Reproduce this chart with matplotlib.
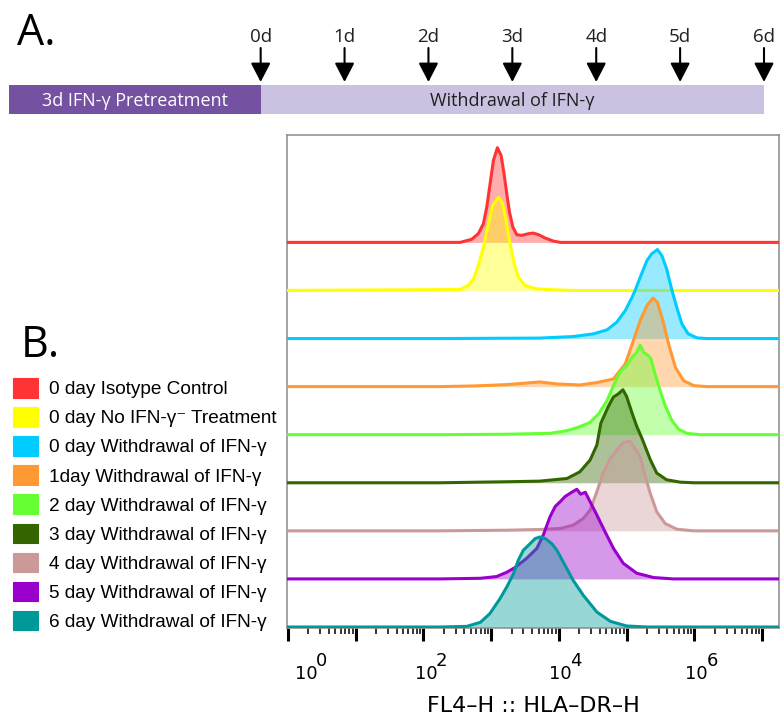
import numpy as np
import matplotlib
matplotlib.use("Agg")
import matplotlib.pyplot as plt
from matplotlib.patches import Patch

# ---------------- data ----------------
labels = ["0 day Isotype Control", "0 day No IFN-\u03b3\u207b Treatment",
          "0 day Withdrawal of IFN-\u03b3", "1day Withdrawal of IFN-\u03b3",
          "2 day Withdrawal of IFN-\u03b3", "3 day Withdrawal of IFN-\u03b3",
          "4 day Withdrawal of IFN-\u03b3", "5 day Withdrawal of IFN-\u03b3",
          "6 day Withdrawal of IFN-\u03b3"]
colors = ["#FF3333", "#FFFF00", "#00CCFF", "#FF9933", "#66FF33",
          "#336600", "#CC9999", "#9900CC", "#009999"]

# x: log10(FL4-H), y: % of mode
red_x = [-0.1, 2.54, 2.71, 2.81, 2.885, 2.935, 2.984, 3.033, 3.092, 3.146, 3.19, 3.23, 3.27, 3.32, 3.378, 3.452, 3.55, 3.62, 3.70, 3.80, 3.92, 4.02, 7.3]
red_y = [0, 0, 3.3, 9.5, 20.4, 38.6, 64.2, 89.7, 103.6, 95.2, 75.1, 53.3, 33.2, 16.7, 8.4, 7.7, 9.5, 10.2, 8.4, 4.7, 1.4, 0, 0]
yel_x = [-0.1, 2.54, 2.66, 2.74, 2.81, 2.885, 2.96, 3.02, 3.11, 3.17, 3.22, 3.28, 3.34, 3.40, 3.50, 3.67, 3.92, 4.21, 7.3]
yel_y = [0, 1, 5.5, 12.8, 27.4, 47.4, 73, 92.9, 102, 94.9, 76.6, 51, 29.2, 14.6, 5.5, 1.8, 0.7, 0, 0]
blu_x = [-0.1, 2.245, 3.72, 4.21, 4.51, 4.71, 4.855, 4.98, 5.08, 5.125, 5.20, 5.30, 5.37, 5.455, 5.52, 5.59, 5.67, 5.74, 5.815, 5.91, 6.04, 6.18, 7.3]
blu_y = [0, 0, 0.5, 2.2, 5.1, 9.5, 17.9, 30.6, 45.2, 52.5, 67, 85.3, 92.7, 97.4, 90.8, 76.3, 52.5, 34.2, 16.1, 5.1, 0.7, 0, 0]
org_x = [-0.1, 2.245, 2.74, 3.23, 3.72, 3.97, 4.31, 4.56, 4.805, 4.98, 5.10, 5.20, 5.30, 5.39, 5.455, 5.535, 5.62, 5.72, 5.84, 5.99, 6.18, 7.3]
org_y = [0, 0, 0.7, 2.2, 5.1, 2.9, 1.8, 4.4, 8.4, 24.8, 50.3, 72.2, 88.6, 97, 92.2, 72.2, 46.7, 21.1, 6.6, 1.1, 0, 0]
grn_x = [-0.1, 2.245, 3.23, 3.87, 4.12, 4.31, 4.46, 4.585, 4.71, 4.805, 4.90, 5.00, 5.08, 5.15, 5.20, 5.25, 5.32, 5.36, 5.42, 5.495, 5.57, 5.67, 5.765, 5.89, 6.085, 7.3]
grn_y = [0, 0, 0.5, 1.5, 4.4, 8.8, 13.5, 22.6, 37.2, 53.6, 68.2, 75.5, 84.6, 90.1, 98.1, 90.1, 86.5, 82.8, 66.4, 48.1, 31.7, 15.3, 6.2, 1.5, 0, 0]
dkg_x = [-0.1, 2.245, 3.23, 3.72, 4.12, 4.31, 4.46, 4.56, 4.62, 4.73, 4.805, 4.88, 4.945, 5.00, 5.08, 5.15, 5.225, 5.35, 5.445, 5.59, 5.79, 5.99, 7.3]
dkg_y = [0, 0, 1.1, 1.8, 4.7, 12, 24.8, 41.2, 65.3, 83.5, 93.8, 97.4, 101.8, 94.4, 76.3, 61.6, 48.9, 25.2, 10.6, 3.3, 0.7, 0, 0]
ros_x = [-0.1, 2.245, 3.23, 3.72, 4.02, 4.21, 4.36, 4.46, 4.56, 4.66, 4.76, 4.855, 4.95, 5.05, 5.125, 5.20, 5.27, 5.35, 5.445, 5.57, 5.74, 5.99, 7.3]
ros_y = [0, 0, 0.7, 1.5, 2.6, 6.2, 13.5, 22.6, 42.7, 64.6, 79.2, 88.3, 96.7, 98.1, 90.1, 81, 60.9, 40.8, 20.8, 8, 1.8, 0, 0]
pur_x = [-0.1, 2.245, 2.84, 3.08, 3.23, 3.35, 3.525, 3.675, 3.77, 3.87, 3.945, 4.02, 4.09, 4.19, 4.265, 4.32, 4.39, 4.46, 4.56, 4.68, 4.805, 4.95, 5.15, 5.40, 5.69, 7.3]
pur_y = [0, 0, 0.7, 2.6, 7.3, 12.4, 22.6, 33.5, 48.1, 68.2, 79.2, 84.6, 90.1, 94.8, 98.1, 92.7, 94.8, 84.6, 70, 51.8, 33.5, 17.1, 6.2, 1.5, 0, 0]
tea_x = [-0.1, 2.245, 2.64, 2.84, 2.98, 3.13, 3.23, 3.33, 3.40, 3.475, 3.55, 3.65, 3.72, 3.80, 3.895, 3.97, 4.09, 4.21, 4.36, 4.56, 4.76, 5.00, 5.30, 7.3]
tea_y = [0, 0, 0.7, 5.1, 14.6, 31, 43.8, 58.4, 73, 84, 89.4, 96.7, 98.5, 96.7, 91.2, 84, 67.6, 51.1, 34.7, 16.4, 6.2, 1.1, 0, 0]

series_x = [red_x, yel_x, blu_x, org_x, grn_x, dkg_x, ros_x, pur_x, tea_x]
series_y = [red_y, yel_y, blu_y, org_y, grn_y, dkg_y, ros_y, pur_y, tea_y]

decades = list(range(8))
label_pos_base = [0.27, 2.04, 4.02, 6.03]
label_pos_exp = [0.50, 2.27, 4.25, 6.26]
label_base = ["10", "10", "10", "10"]
label_exp = ["0", "2", "4", "6"]

days = [0, 1, 2, 3, 4, 5, 6]
pretreat_days = 3

OFFSET = 52.6  # vertical offset between stacked histograms (% of mode)

# ---------------- figure ----------------
W, H = 781, 723
fig = plt.figure(figsize=(W / 100, H / 100), dpi=100)
fig.patch.set_facecolor("white")

# ----- main histogram axes -----
L, R, T, B = 287, 779, 135, 628
ax = fig.add_axes([L / W, 1 - B / H, (R - L) / W, (B - T) / H])
n = len(series_x)
for i, (xs, ys, c) in enumerate(zip(series_x, series_y, colors)):
    off = (n - 1 - i) * OFFSET
    ys = np.asarray(ys, float) + off
    ax.fill_between(xs, off, ys, color=c, alpha=0.4, lw=0, zorder=2 + 2 * i)
    ax.plot(xs, ys, color=c, lw=2.2, zorder=3 + 2 * i, solid_joinstyle="round")

ax.set_xlim(-0.015, 7.25)
ax.set_ylim(-1.1, 538.3)
ax.set_yticks([])
for s in ["top", "left", "right", "bottom"]:
    ax.spines[s].set_color("#8a8a8a")
    ax.spines[s].set_linewidth(1.1)

ax.set_xticks(decades, labels=[""] * len(decades))
minor = [d + np.log10(k) for d in decades[:-1] for k in range(2, 10)]
ax.set_xticks(minor, minor=True)
ax.tick_params(axis="x", which="major", length=9.4, width=2.2, color="black", direction="out")
ax.tick_params(axis="x", which="minor", length=4.3, width=1.1, color="black", direction="out")

sec1 = ax.secondary_xaxis("bottom")
sec1.set_xticks(label_pos_base, labels=label_base)
sec1.tick_params(length=0, pad=26.5, labelsize=13)
sec1.spines["bottom"].set_visible(False)
sec2 = ax.secondary_xaxis("bottom")
sec2.set_xticks(label_pos_exp, labels=label_exp)
sec2.tick_params(length=0, pad=17.5, labelsize=13)
sec2.spines["bottom"].set_visible(False)

ax.set_xlabel("FL4\u2013H :: HLA\u2013DR\u2013H", fontsize=16)
ax.xaxis.set_label_coords(0.5, (B - 695.5) / (B - T))

# ----- legend -----
handles = [Patch(facecolor=c, edgecolor=c, alpha=1.0, lw=0.8) for c in colors]
leg = fig.legend(handles, labels, loc="upper left",
                 bbox_to_anchor=(13 / W, 1 - 378 / H), frameon=False,
                 borderpad=0, borderaxespad=0, handlelength=1.32, handleheight=1.2,
                 handletextpad=0.55, labelspacing=0.47,
                 prop={"family": ["Liberation Sans", "DejaVu Sans"], "size": 13.7})

# ----- panel letters -----
fig.text(17 / W, 1 - 45 / H, "A.", fontsize=31, family="Open Sans", va="baseline")
fig.text(21 / W, 1 - 357 / H, "B.", fontsize=31, family="Open Sans", va="baseline")

# ----- timeline (panel A) -----
px_per_day = (764 - 9) / (pretreat_days + days[-1])
axt = fig.add_axes([0, 1 - 130 / H, 1, 130 / H])
axt.set_xlim(-pretreat_days - 9 / px_per_day, days[-1] + (W - 764) / px_per_day)
axt.set_ylim(130, 0)
axt.axis("off")
axt.barh(99.5, pretreat_days, left=-pretreat_days, height=29, color="#7451A1", lw=0)
axt.barh(99.5, days[-1] - days[0], left=days[0], height=29, color="#CBC2E1", lw=0)
axt.text(-pretreat_days / 2, 105.5, "3d IFN-\u03b3 Pretreatment", color="white",
         ha="center", va="baseline", fontsize=13, family="Open Sans")
axt.text((days[0] + days[-1]) / 2, 105.5, "Withdrawal of IFN-\u03b3", color="#231F20",
         ha="center", va="baseline", fontsize=13, family="Open Sans")
for d in days:
    axt.annotate("", xy=(d, 82), xytext=(d, 48),
                 arrowprops=dict(arrowstyle="-|>,head_length=0.58,head_width=0.3",
                                 color="black", lw=1.5, mutation_scale=20,
                                 shrinkA=0, shrinkB=0))
    axt.text(d, 42, f"{d}d", ha="center", va="baseline", fontsize=13.5,
             family="Open Sans", color="#231F20")

fig.savefig("out.png", dpi=100)
